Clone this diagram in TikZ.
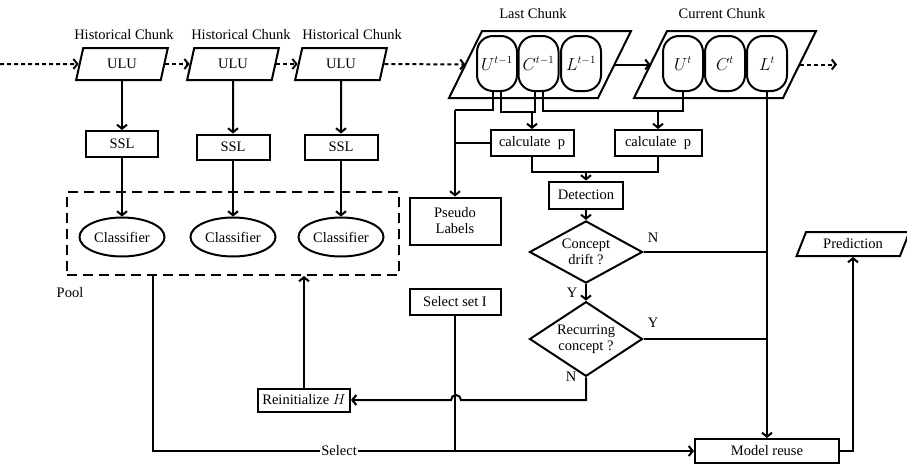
\documentclass[tikz,border=0pt]{standalone}
\usepackage{fontspec}
\setmainfont{Liberation Serif}
\usetikzlibrary{positioning, arrows.meta, calc, shapes.geometric}

\begin{document}
\begin{tikzpicture}[>={Straight Barb[length=4pt,width=10pt]}, x=1pt, y=-1pt, line width=2pt,
  every node/.style={font=\fontsize{14.5}{16}\selectfont},
  box/.style={draw, rectangle, inner sep=0pt},
  para/.style 2 args={draw, trapezium, trapezium left angle=#1, trapezium right angle=#2, trapezium stretches=true, inner sep=1pt},
  pill/.style={draw, rectangle, rounded corners=16pt, minimum width=40pt, minimum height=55pt, inner sep=0pt, font=\fontsize{16}{17}\selectfont},
  classifier/.style={draw, ellipse, minimum width=85pt, minimum height=39pt, inner sep=0pt},
  decision/.style={draw, diamond, align=center, inner sep=-3pt, minimum width=113pt, minimum height=55pt},
  dotline/.style={dash pattern=on 4pt off 3pt}]
  \useasboundingbox (0,0) rectangle (907,466);

  % Historical chunks
  \node (hc1) at (124,35) {Historical Chunk};
  \node (hc2) at (241,35) {Historical Chunk};
  \node (hc3) at (352,35) {Historical Chunk};
  \node[para={76}{104}, minimum width=92pt, minimum height=32pt] (ulu1) at (122,64) {ULU};
  \node[para={76}{104}, minimum width=92pt, minimum height=32pt] (ulu2) at (233,64) {ULU};
  \node[para={76}{104}, minimum width=92pt, minimum height=32pt] (ulu3) at (341,64) {ULU};
  \node[box, minimum width=72pt, minimum height=26pt] (ssl1) at (122,144) {SSL};
  \node[box, minimum width=73pt, minimum height=25pt] (ssl2) at (233,147) {SSL};
  \node[box, minimum width=73pt, minimum height=25pt] (ssl3) at (341,147) {SSL};
  \node[classifier] (cls1) at (122,237) {Classifier};
  \node[classifier] (cls2) at (233,237) {Classifier};
  \node[classifier] (cls3) at (341,237) {Classifier};

  % Pool
  \node[draw, dash pattern=on 10pt off 6pt, minimum width=332pt, minimum height=83pt] (pool) at (233,233.5) {};
  \node (poollbl) at (70,293) {Pool};

  % Last and current chunk
  \node (lastlbl) at (533,14) {Last Chunk};
  \node (curlbl) at (722,14) {Current Chunk};
  \coordinate (lastbl) at (449,98);
  \coordinate (lastbr) at (598,98);
  \coordinate (lasttr) at (631,31);
  \coordinate (lasttl) at (482,31);
  \coordinate (curbl) at (634,98);
  \coordinate (curbr) at (783,98);
  \coordinate (curtr) at (816,31);
  \coordinate (curtl) at (667,31);
  \draw (lastbl) -- (lastbr) -- (lasttr) -- (lasttl) -- cycle;
  \draw (curbl) -- (curbr) -- (curtr) -- (curtl) -- cycle;
  \node[pill] (ut1) at (497,63.5) {$U^{t-1}$};
  \node[pill] (ct1) at (538.5,63.5) {$C^{t-1}$};
  \node[pill] (lt1) at (581,63.5) {$L^{t-1}$};
  \node[pill] (ut) at (683,63.5) {$U^{t}$};
  \node[pill] (ct) at (725,63.5) {$C^{t}$};
  \node[pill] (lt) at (767,63.5) {$L^{t}$};

  % Right part
  \node[box, minimum width=83pt, minimum height=26pt] (calc1) at (532,143) {calculate\ \ p};
  \node[box, minimum width=87pt, minimum height=26pt] (calc2) at (658,143) {calculate\ \ p};
  \node[box, minimum width=74pt, minimum height=27pt] (det) at (586,195) {Detection};
  \node[decision] (drift) at (586,252) {Concept\\drift ?};
  \node[decision] (recur) at (586,339) {Recurring\\concept ?};
  \node[box, align=center, minimum width=91pt, minimum height=47pt] (pseudo) at (455,221) {Pseudo\\Labels};
  \node[box, minimum width=91pt, minimum height=26pt] (sel) at (455,302) {Select set I};
  \node[box, minimum width=92pt, minimum height=23pt] (reinit) at (304,400) {Reinitialize $H$};
  \node[box, minimum width=144pt, minimum height=24pt] (model) at (767,451) {Model reuse};
  \node[para={63}{117}, minimum width=113pt, minimum height=24pt] (pred) at (853,244) {Prediction};

  % Y / N labels
  \node (ylbl1) at (572,293) {Y};
  \node (nlbl1) at (653,238) {N};
  \node (ylbl2) at (653,323) {Y};
  \node (nlbl2) at (571,377) {N};

  % Stream
  \coordinate (start) at (0,64);
  \coordinate (stop) at (837,64.5);
  \coordinate (lastW) at ($(lastbl)!0.5!(lasttl)$);
  \coordinate (lastE) at ($(lastbr)!0.5!(lasttr)$);
  \coordinate (curW) at ($(curbl)!0.5!(curtl)$);
  \coordinate (curE) at ($(curbr)!0.5!(curtr)$);
  \draw[->, dotline] (start) -- (ulu1.west);
  \draw[->, dotline] (ulu1.east) -- (ulu2.west);
  \draw[->, dotline] (ulu2.east) -- (ulu3.west);
  \draw[->, dotline] (ulu3.east) -- (lastW);
  \draw[->] (lastE) -- (curW);
  \draw[->, dotline] (curE) -- (stop);

  % Historical columns
  \draw[->] (ulu1) -- (ssl1);
  \draw[->] (ulu2) -- (ssl2);
  \draw[->] (ulu3) -- (ssl3);
  \draw[->] (ssl1) -- (cls1);
  \draw[->] (ssl2) -- (cls2);
  \draw[->] (ssl3) -- (cls3);

  % Chunk outputs
  \coordinate (jpseudo) at (455,110);
  \coordinate (bus) at (600,111);
  \draw ([xshift=-4pt]ut1.south) |- (jpseudo);
  \draw[->] (jpseudo) -- (pseudo);
  \draw (calc1.west) -- (calc1.west -| jpseudo);
  \draw ([xshift=4pt]ut1.south) -- ++(0,20) -| ([xshift=-4pt]ct1.south);
  \draw ([xshift=4pt]ct1.south) |- (bus) -| (ut.south);
  \draw[->] (calc1 |- bus) -- (calc1);
  \draw[->] (calc2 |- bus) -- (calc2);

  % Detection
  \coordinate (mid) at (586,172);
  \draw (calc1) |- (mid) -| (calc2);
  \draw[->] (mid) -- (det);
  \draw[->] (det) -- (drift);
  \draw[->] (drift) -- (recur);
  \draw (drift.east) -- (drift.east -| lt);
  \draw (recur.east) -- (recur.east -| lt);
  \draw[->] (lt) -- (model);

  % Reinitialize
  \coordinate (hop) at (456,400);
  \draw[->] (recur.south) -- (recur.south |- hop) -- ([xshift=5pt]hop) arc[start angle=0, end angle=180, radius=5pt] -- (reinit.east);
  \draw[->] (reinit) -- (reinit |- pool.south);

  % Model reuse
  \draw[->] ([xshift=-80pt]pool.south) |- node[pos=0.672, fill=white, inner sep=1pt] {Select} (model.west);
  \draw (sel) -- (sel |- model.west);
  \draw[->] (model.east) -| (pred.south);
\end{tikzpicture}
\end{document}
